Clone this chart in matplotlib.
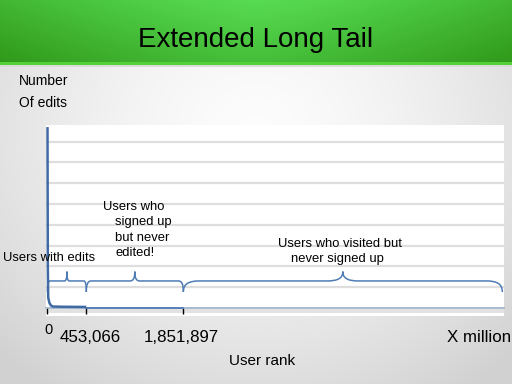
import numpy as np
import matplotlib
matplotlib.use("Agg")
import matplotlib.pyplot as plt
from matplotlib.path import Path
from matplotlib.patches import PathPatch

plt.rcParams["font.family"] = ["Liberation Sans", "DejaVu Sans"]

# data: user rank vs number of edits (arbitrary units)
edited_rank = [0, 2000, 5000, 15000, 30000, 50000, 150000, 300000, 453066]
edited_edits = [8.7, 2.0, 0.5, 0.25, 0.12, 0.07, 0.06, 0.055, 0.05]
signed_rank = [453066, 1851897]
signed_edits = [0.01, 0.01]
visitor_rank = [1851897, 7200000]
visitor_edits = [0, 0]

tick_ranks = [0, 453066, 1851897]
tick_labels = ["0", "453,066", "1,851,897"]
group_edges = [0, 453066, 1851897, 7200000]

W, H = 512, 384
fig = plt.figure(figsize=(W / 100, H / 100), dpi=100)

# slide background
bg = fig.add_axes([0, 0, 1, 1], zorder=-1)
bg.set_xlim(0, W)
bg.set_ylim(H, 0)
bg.axis("off")
yy, xx = np.mgrid[0:H, 0:W]
r = np.hypot((xx - 256) / 320, (yy - 130) / 280)
gray = np.clip(0.99 - 0.14 * r ** 1.5, 0.82, 1)
img = np.dstack([gray, gray, gray])
# green title bar
t = np.abs(xx - 256) / 256
v = yy / 62
mix = np.clip(0.55 * t ** 1.3 + 0.45 * v, 0, 1)
light = np.array([0.34, 0.86, 0.32])
dark = np.array([0.19, 0.60, 0.10])
green = light * (1 - mix[..., None]) + dark * mix[..., None]
bar = yy < 62
img[bar] = green[bar]
img[(yy >= 62) & (yy < 65)] = [0.33, 0.82, 0.22]
img[(yy >= 65) & (yy < 67)] = [0.86, 0.86, 0.86]
bg.imshow(img, extent=(0, W, H, 0), aspect="auto")


def px(x, y):
    return x / W, 1 - y / H


fig.text(*px(256, 47), "Extended Long Tail", fontsize=20, ha="center", va="baseline")
fig.text(*px(19, 85), "Number", fontsize=10, va="baseline")
fig.text(*px(19, 106.7), "Of edits", fontsize=10, va="baseline")

# slightly compressed rank axis (the slide's ticks aren't evenly spaced)
P = 0.89


def fwd(x):
    x = np.asarray(x, dtype=float)
    return np.sign(x) * np.abs(x) ** P


def inv(u):
    u = np.asarray(u, dtype=float)
    return np.sign(u) * np.abs(u) ** (1 / P)


# chart area
ax = fig.add_axes([46 / W, 1 - 316 / H, (504 - 46) / W, (316 - 125) / H])
ax.set_facecolor("white")
ax.set_xscale("function", functions=(fwd, inv))
ax.set_xlim(-11700, 7230000)
ax.set_ylim(-0.385, 8.8)
for s in ["top", "left", "right"]:
    ax.spines[s].set_visible(False)
ax.spines["bottom"].set_position(("data", 0))
ax.spines["bottom"].set_color("#9fb4cc")
ax.spines["bottom"].set_linewidth(1.2)
ax.set_yticks(range(1, 9))
ax.yaxis.grid(True, color="#dedede", linewidth=1.6)
ax.tick_params(axis="y", length=0, labelleft=False)
ax.set_xticks(tick_ranks)
ax.xaxis.set_minor_locator(plt.NullLocator())
ax.tick_params(axis="x", direction="out", length=4.3, width=1, color="black",
               labelbottom=False)
ax.axhspan(-0.25, 0, color="#e2e2e2", zorder=0.5, lw=0)

line_color = "#4f7cb5"
ax.plot(visitor_rank, visitor_edits, color="#a9bcd2", lw=1.2, zorder=3)
ax.plot(signed_rank, signed_edits, color=line_color, lw=1.3, zorder=3)
ax.plot(edited_rank, edited_edits, color="#3f6aa3", lw=1.8, zorder=4,
        solid_capstyle="butt")

# tick labels (hand placed on the slide, so small shifts per label)
shifts = [(1, -26), (4, -33.7), (-2, -33.7)]
sizes = [10.5, 12.2, 12.2]
for rank, lab, (dx, dy), sz in zip(tick_ranks, tick_labels, shifts, sizes):
    ax.annotate(lab, (rank, 0), xytext=(dx, dy), textcoords="offset pixels",
                ha="center", va="baseline", fontsize=sz, annotation_clip=False)
fig.text(*px(446.7, 341.7), "X million", fontsize=12.2, va="baseline")
fig.text(*px(262.5, 365), "User rank", fontsize=11, ha="center", va="baseline")


# curly braces over each group of users, shaped in the linear (display) space
def brace(x0, x1, level=1.3, tip=1.75, end=0.77):
    u0, u1 = float(fwd(x0)), float(fwd(x1))
    um = (u0 + u1) / 2
    r = max(0.05 * (u1 - u0), 7000)
    verts = [
        (u0, end), (u0, end + (level - end) * 0.7), (u0 + r * 0.3, level), (u0 + r, level),
        (um - r, level),
        (um - r * 0.3, level), (um, level + (tip - level) * 0.3), (um, tip),
        (um, level + (tip - level) * 0.3), (um + r * 0.3, level), (um + r, level),
        (u1 - r, level),
        (u1 - r * 0.3, level), (u1, end + (level - end) * 0.7), (u1, end),
    ]
    verts = [(float(inv(u)), y) for u, y in verts]
    codes = [Path.MOVETO, Path.CURVE4, Path.CURVE4, Path.CURVE4,
             Path.LINETO,
             Path.CURVE4, Path.CURVE4, Path.CURVE4,
             Path.CURVE4, Path.CURVE4, Path.CURVE4,
             Path.LINETO,
             Path.CURVE4, Path.CURVE4, Path.CURVE4]
    ax.add_patch(PathPatch(Path(verts, codes), fill=False, edgecolor=line_color,
                           lw=1.1, zorder=3, clip_on=False))


for a, b in zip(group_edges[:-1], group_edges[1:]):
    brace(a, b)

fs = 9.4
fig.text(*px(2.7, 261), "Users with edits", fontsize=fs, va="baseline")
fig.text(*px(103, 210), "Users who", fontsize=fs, va="baseline")
fig.text(*px(115, 225.5), "signed up", fontsize=fs, va="baseline")
fig.text(*px(115, 241), "but never", fontsize=fs, va="baseline")
fig.text(*px(115, 255.5), "edited!", fontsize=fs, va="baseline")
fig.text(*px(339.5, 246.7), "Users who visited but", fontsize=fs, ha="center", va="baseline")
fig.text(*px(337, 261.7), "never signed up", fontsize=fs, ha="center", va="baseline")

fig.savefig("out.png", dpi=100)
